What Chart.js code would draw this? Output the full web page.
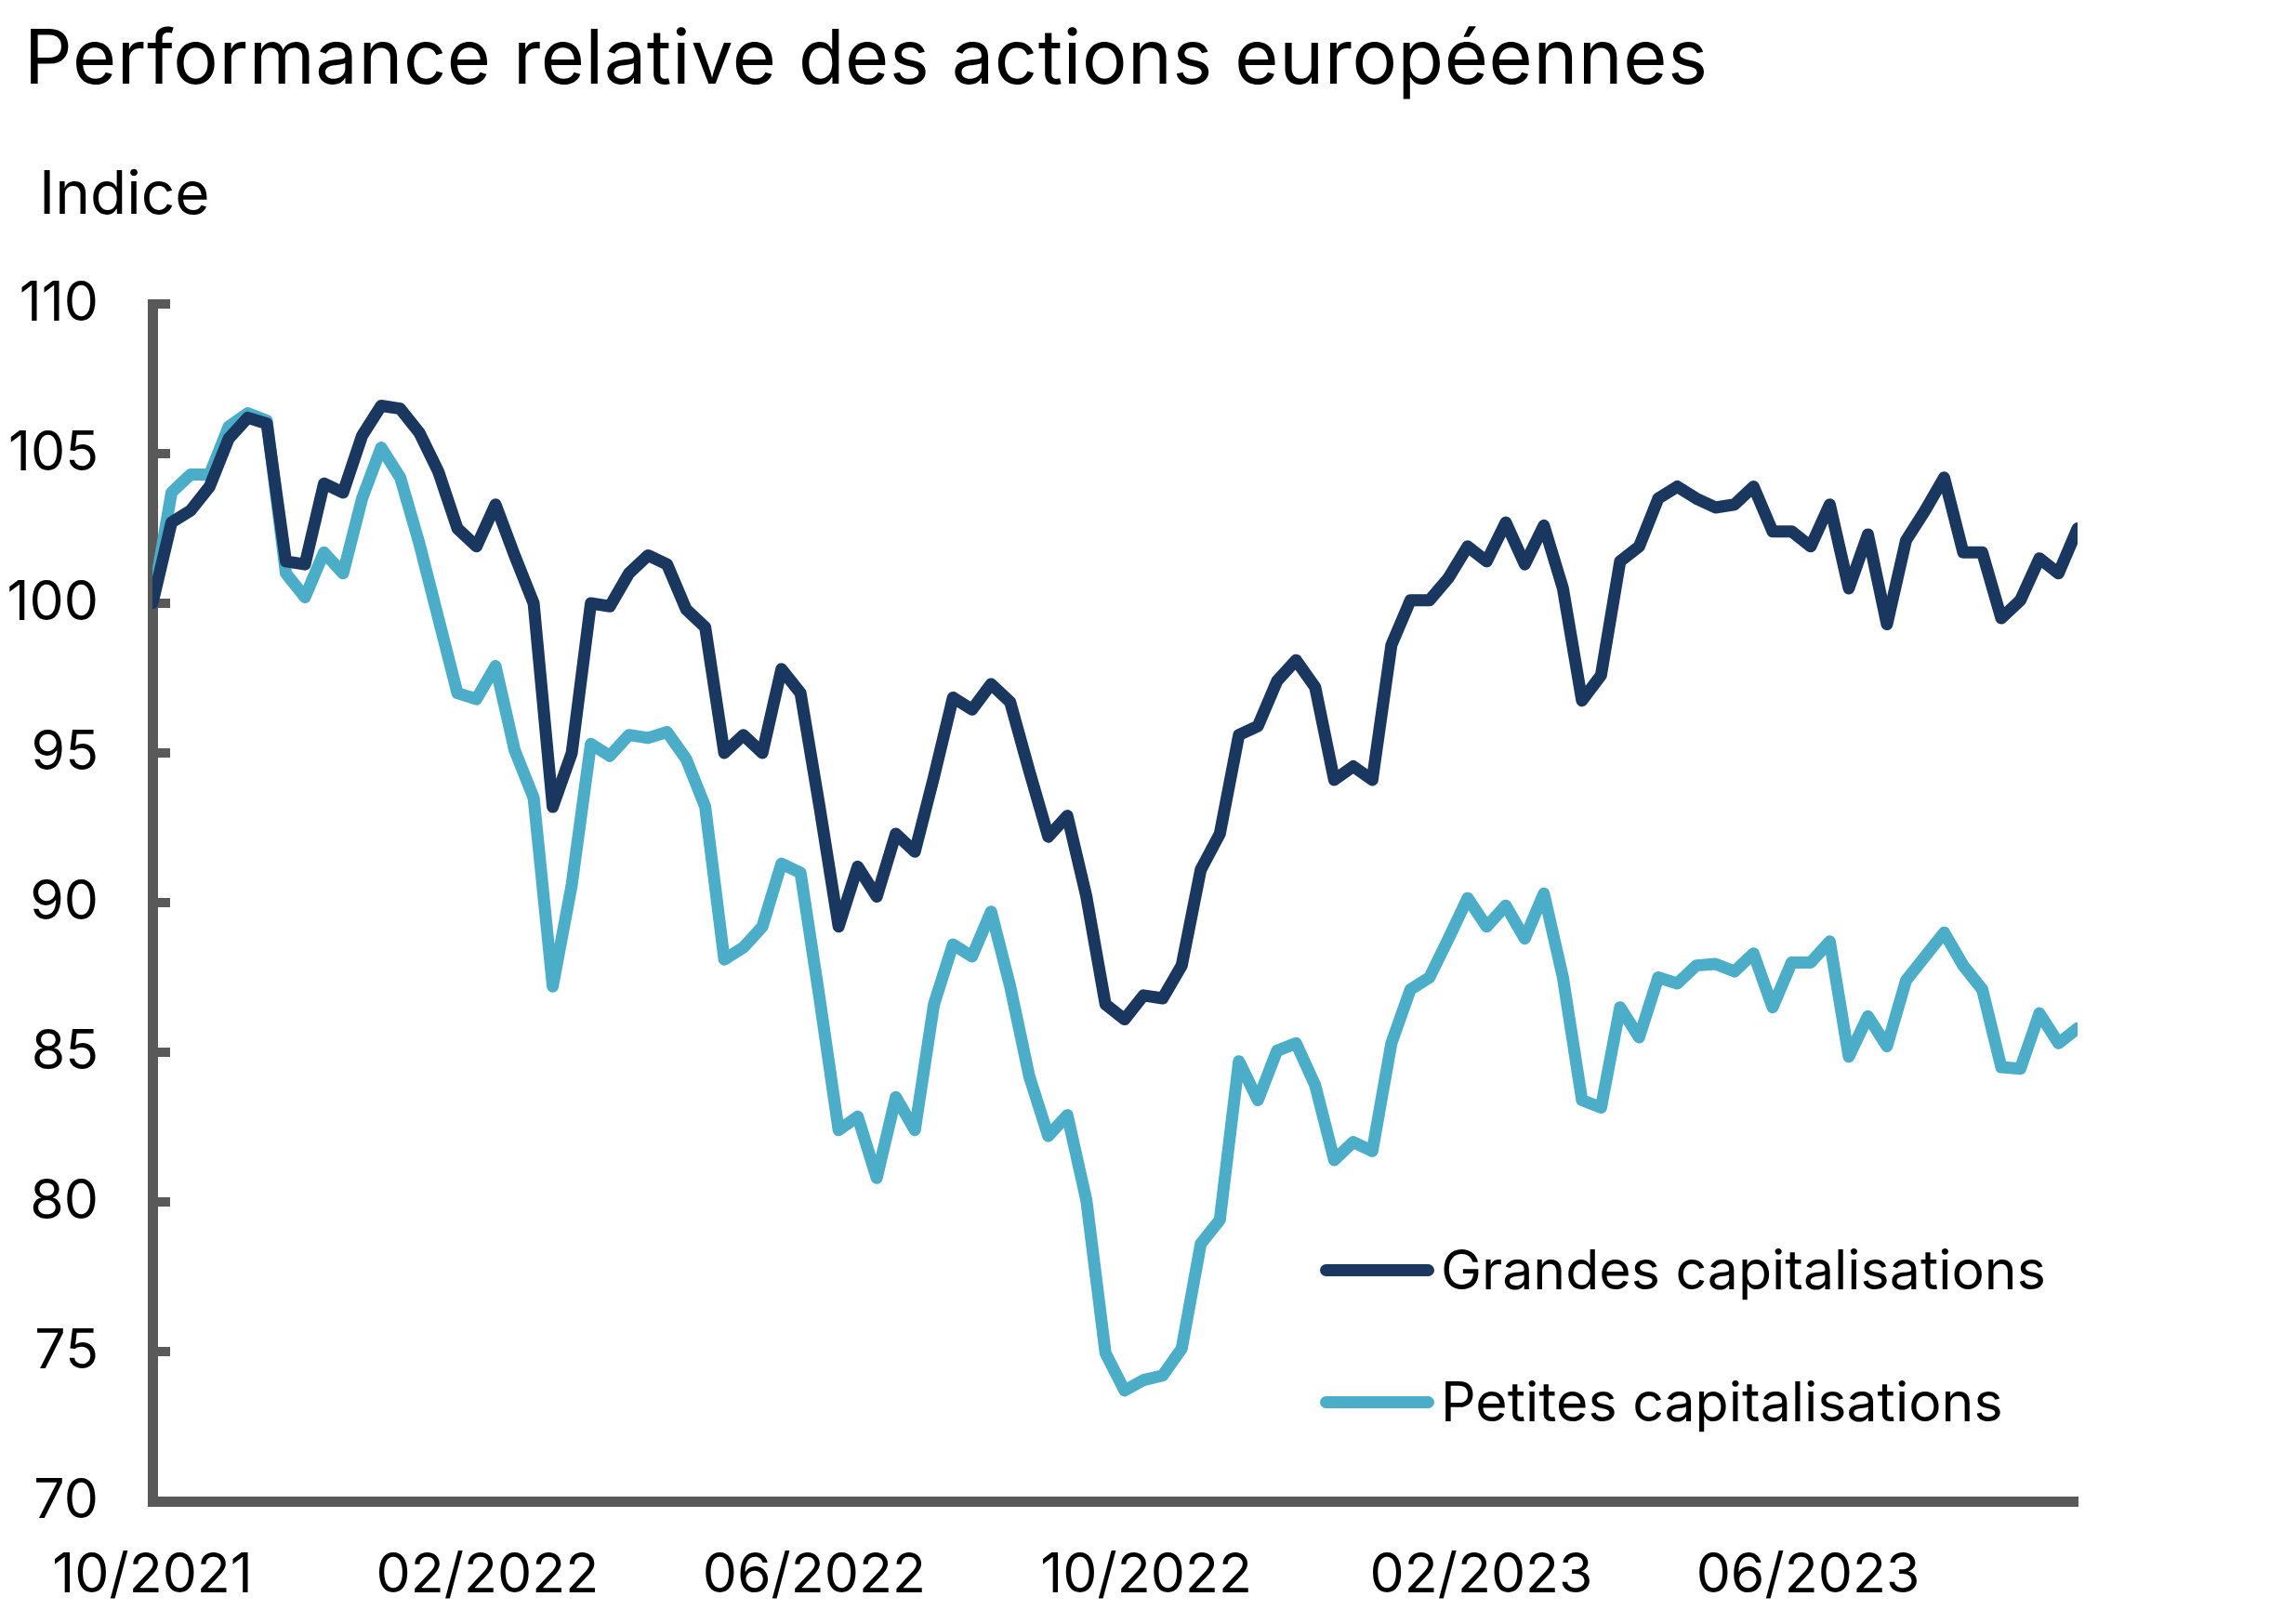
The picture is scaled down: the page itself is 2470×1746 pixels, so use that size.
<!DOCTYPE html>
<html lang="fr">
<head>
<meta charset="utf-8">
<title>Performance relative des actions européennes</title>
<script src="https://cdn.jsdelivr.net/npm/chart.js@4.4.1/dist/chart.umd.min.js"></script>
<style>
    html, body { margin: 0; padding: 0; background: #fff; }
    body { width: 2470px; height: 1746px; position: relative; overflow: hidden; font-family: Inter, "Noto Sans", sans-serif; color: #000; }
    #titre { position: absolute; left: 26px; top: 21px; font-size: 81px; line-height: 80px; letter-spacing: 0.6px; white-space: nowrap; }
    #unite { position: absolute; left: 42px; top: 175px; font-size: 64px; line-height: 64px; }
    #graphe { position: absolute; left: 0; top: 0; }
    .legende-item { position: absolute; left: 1420px; height: 58px; display: flex; align-items: center; font-size: 59px; line-height: 58px; white-space: nowrap; }
    .legende-trait { width: 123px; height: 13px; border-radius: 7px; margin-right: 7px; }
</style>
</head>
<body>
<div id="titre">Performance relative des actions européennes</div>
<div id="unite">Indice</div>
<canvas id="graphe" width="2470" height="1746"></canvas>
<div id="legende"></div>

<script>
// Données hebdomadaires (indice base 100 au début)
const dateDebut = "2021-10-01";

const grandesCap = [
    100.0, 102.7, 103.1, 103.9, 105.5, 106.2, 106.0, 101.4, 101.3, 104.0,
    103.7, 105.6, 106.6, 106.5, 105.7, 104.4, 102.5, 101.9, 103.3, 101.6,
    100.0, 93.2, 95.0, 100.0, 99.9, 101.0, 101.6, 101.3, 99.8, 99.2,
    95.0, 95.6, 95.0, 97.8, 97.0, 93.2, 89.2, 91.2, 90.2, 92.3,
    91.7, 94.2, 96.85, 96.45, 97.3, 96.7, 94.4, 92.2, 92.9, 90.2,
    86.6, 86.1, 86.9, 86.8, 87.9, 91.1, 92.3, 95.6, 95.9, 97.4,
    98.1, 97.2, 94.1, 94.55, 94.1, 98.6, 100.1, 100.1, 100.85, 101.9,
    101.4, 102.7, 101.3, 102.6, 100.5, 96.75, 97.6, 101.4, 101.9, 103.5,
    103.9, 103.5, 103.2, 103.3, 103.9, 102.4, 102.4, 101.9, 103.3, 100.5,
    102.3, 99.3, 102.1, 103.1, 104.2, 101.7, 101.7, 99.5, 100.1, 101.5,
    101.0, 102.5
];

const petitesCap = [
    100.0, 103.7, 104.3, 104.3, 105.9, 106.35, 106.1, 101.0, 100.2, 101.7,
    101.0, 103.5, 105.2, 104.2, 102.0, 99.5, 97.0, 96.8, 97.9, 95.1,
    93.5, 87.2, 90.6, 95.3, 94.9, 95.6, 95.5, 95.7, 94.8, 93.2,
    88.1, 88.5, 89.2, 91.3, 91.0, 86.8, 82.4, 82.85, 80.8, 83.5,
    82.4, 86.6, 88.6, 88.2, 89.7, 87.2, 84.2, 82.2, 82.9, 80.05,
    74.95, 73.7, 74.05, 74.2, 75.1, 78.6, 79.4, 84.7, 83.4, 85.05,
    85.3, 83.9, 81.4, 82.0, 81.7, 85.3, 87.1, 87.5, 88.8, 90.15,
    89.2, 89.9, 88.8, 90.3, 87.5, 83.4, 83.15, 86.5, 85.5, 87.5,
    87.3, 87.9, 87.95, 87.7, 88.3, 86.5, 88.0, 88.0, 88.7, 84.85,
    86.2, 85.2, 87.4, 88.2, 89.0, 87.9, 87.1, 84.5, 84.45, 86.3,
    85.3, 85.8
];

const moisAxe = ["10/2021", "02/2022", "06/2022", "10/2022", "02/2023", "06/2023"];
const valeursAxeY = [70, 75, 80, 85, 90, 95, 100, 105, 110];

const nomsSeries = ["Grandes capitalisations", "Petites capitalisations"];
const couleurGrandes = "#1A3760";
const couleurPetites = "#4BADC7";
const couleurAxe = "#595959";

// Position (en semaines depuis le début) d'un libellé "MM/AAAA"
function semaineDuMois(libelle) {
    const [mois, annee] = libelle.split("/").map(Number);
    const debut = new Date(dateDebut + "T00:00:00Z");
    const d = new Date(Date.UTC(annee, mois - 1, 1));
    return (d - debut) / (7 * 24 * 3600 * 1000);
}

const positionsMois = moisAxe.map(semaineDuMois);

function versPoints(valeurs) {
    return valeurs.map((v, i) => ({ x: i, y: v }));
}

// Petites graduations tournées vers l'intérieur du graphique
const graduationsInterieures = {
    id: "graduationsInterieures",
    beforeDatasetsDraw(chart) {
        const echelle = chart.scales.y;
        const ctx = chart.ctx;
        ctx.save();
        ctx.strokeStyle = couleurAxe;
        ctx.lineWidth = 10;
        echelle.ticks.forEach(t => {
            const py = echelle.getPixelForValue(t.value);
            ctx.beginPath();
            ctx.moveTo(echelle.right, py);
            ctx.lineTo(echelle.right + 19, py);
            ctx.stroke();
        });
        ctx.restore();
    }
};

const policeAxes = { family: "Inter, 'Noto Sans', sans-serif", size: 59 };

const graphe = new Chart(document.getElementById("graphe"), {
    type: "line",
    data: {
        datasets: [
            {
                label: nomsSeries[0],
                data: versPoints(grandesCap),
                borderColor: couleurGrandes,
                backgroundColor: couleurGrandes,
            },
            {
                label: nomsSeries[1],
                data: versPoints(petitesCap),
                borderColor: couleurPetites,
                backgroundColor: couleurPetites,
            },
        ],
    },
    options: {
        responsive: false,
        animation: false,
        devicePixelRatio: 1,
        layout: {
            padding: { left: 0, right: 235, top: 327, bottom: 0 },
        },
        elements: {
            line: {
                borderWidth: 13,
                tension: 0,
                borderJoinStyle: "round",
                borderCapStyle: "round",
            },
            point: { radius: 0 },
        },
        plugins: {
            legend: { display: false },
            title: { display: false },
            tooltip: { enabled: false },
        },
        scales: {
            x: {
                type: "linear",
                min: 0,
                max: grandesCap.length - 1,
                afterFit: s => { s.height = 131; },
                afterBuildTicks: s => {
                    s.ticks = positionsMois.map(v => ({ value: v }));
                },
                grid: { display: true, drawOnChartArea: false, drawTicks: false },
                border: { display: true, color: couleurAxe, width: 11 },
                ticks: {
                    autoSkip: false,
                    maxRotation: 0,
                    padding: 45,
                    color: "#000",
                    font: policeAxes,
                    callback: (v, i) => moisAxe[i],
                },
            },
            y: {
                min: valeursAxeY[0],
                max: valeursAxeY[valeursAxeY.length - 1],
                afterFit: s => { s.width = 164; },
                afterBuildTicks: s => {
                    s.ticks = valeursAxeY.map(v => ({ value: v }));
                },
                grid: { display: true, drawOnChartArea: false, drawTicks: false },
                border: { display: true, color: couleurAxe, width: 11 },
                ticks: {
                    padding: 58,
                    color: "#000",
                    font: policeAxes,
                },
            },
        },
    },
    plugins: [graduationsInterieures],
});

// Légende HTML construite à partir des séries du graphique
const legende = document.getElementById("legende");
const lignesLegende = [1366, 1508];
graphe.data.datasets.forEach((ds, i) => {
    const item = document.createElement("div");
    item.className = "legende-item";
    item.style.top = (lignesLegende[i] - 29) + "px";
    const trait = document.createElement("span");
    trait.className = "legende-trait";
    trait.style.background = ds.borderColor;
    const texte = document.createElement("span");
    texte.textContent = ds.label;
    item.appendChild(trait);
    item.appendChild(texte);
    legende.appendChild(item);
});
</script>
</body>
</html>
